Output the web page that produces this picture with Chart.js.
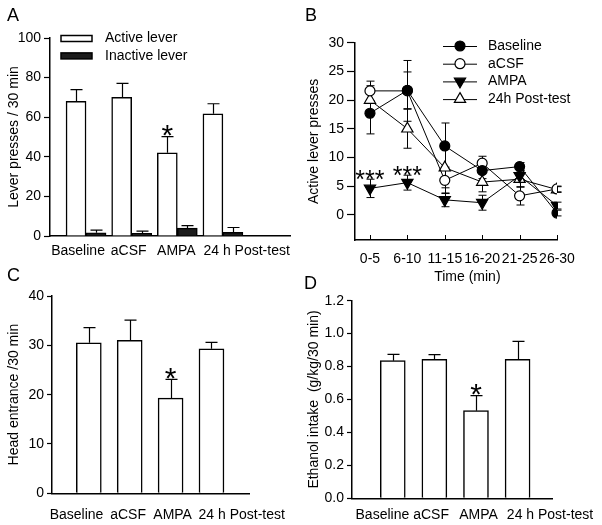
<!DOCTYPE html>
<html><head><meta charset="utf-8">
<script src="https://cdn.jsdelivr.net/npm/chart.js@4.4.1/dist/chart.umd.min.js"></script>
<style>
html,body{margin:0;padding:0;background:#fff;}
body{width:602px;height:525px;position:relative;overflow:hidden;font-family:'Liberation Sans',Arial,sans-serif;}
canvas{position:absolute;}
.letter{position:absolute;font-size:18px;line-height:18px;color:#000;}
</style></head><body>
<canvas id="cA" width="300" height="262" style="left:0;top:0"></canvas>
<canvas id="cC" width="300" height="263" style="left:0;top:262px"></canvas>
<canvas id="cD" width="302" height="263" style="left:300px;top:262px"></canvas>
<canvas id="cB" width="302" height="290" style="left:300px;top:0"></canvas>
<div class="letter" style="left:7px;top:6px">A</div>
<div class="letter" style="left:305px;top:6px">B</div>
<div class="letter" style="left:7px;top:266px">C</div>
<div class="letter" style="left:304px;top:274px">D</div>
<script>
// ---------- DATA ----------
const groups = ['Baseline', 'aCSF', 'AMPA', '24 h Post-test'];
const activeLever = [68, 70, 42, 61.7];
const activeLeverSem = [5.9, 7.1, 8.2, 5.1];
const inactiveLever = [1.6, 1.4, 4.0, 1.8];
const inactiveLeverSem = [1.4, 1.1, 1.2, 2.5];

const timeBins = ['0-5', '6-10', '11-15', '16-20', '21-25', '26-30'];
const bBaseline = [17.7, 21.7, 12.0, 7.7, 8.4, 0.3];
const bBaselineSem = [3.6, 3.2, 4.0, 1.4, 0.7, 0.5];
const bACSF = [21.6, 21.6, 6.0, 9.0, 3.3, 4.5];
const bACSFSem = [1.7, 5.3, 2.3, 1.2, 1.6, 0.5];
const bAMPA = [4.6, 5.6, 2.6, 2.1, 6.8, 1.6];
const bAMPASem = [1.6, 1.3, 1.2, 1.3, 1.0, 0.6];
const bPost = [20.0, 15.0, 8.2, 5.7, 6.2, 4.4];
const bPostSem = [2.5, 3.4, 3.5, 1.7, 1.4, 0.5];
const seriesB = ['Baseline', 'aCSF', 'AMPA', '24h Post-test'];

const headEntrance = [30.5, 31.0, 19.3, 29.3];
const headEntranceSem = [3.1, 4.1, 3.8, 1.3];
const ethanolIntake = [0.836, 0.844, 0.532, 0.844];
const ethanolIntakeSem = [0.038, 0.028, 0.091, 0.109];

const sigBars = [2];      // AMPA (*)
const sigTime = [0, 1];   // AMPA at 0-5, 6-10 (***)

// ---------- STYLE / LAYOUT ----------
const FONT = "'Liberation Sans', Arial, sans-serif";
Chart.defaults.font.family = FONT;
Chart.defaults.font.size = 14;
Chart.defaults.color = '#000';
const labelShiftA = [-0.175, -0.066, -0.02, 0.52];
const labelShiftC = [-0.30, -0.04, 0.05, 0.74];
const labelShiftD = [-0.25, -0.08, 0.06, 0.78];

function valOf(v) { return (v !== null && typeof v === 'object') ? v.y : v; }

const errPlugin = {
  id: 'errbars',
  beforeDatasetsDraw(chart, a, o) { if (o.layer === 'before') drawErr(chart, o); },
  afterDatasetsDraw(chart, a, o) { if (o.layer !== 'before') drawErr(chart, o); }
};
function drawErr(chart, o) {
  const ctx = chart.ctx, ys = chart.scales.y;
  chart.data.datasets.forEach((ds, di) => {
    if (!ds.sem) return;
    const meta = chart.getDatasetMeta(di);
    meta.data.forEach((el, i) => {
      const v = valOf(ds.data[i]), e = ds.sem[i];
      const x = Math.round(el.x) + 0.5;
      const yt = ys.getPixelForValue(v + e);
      const ym = ys.getPixelForValue(v);
      const yb = o.both ? ys.getPixelForValue(v - e) : ym;
      const c = (o.cap || 8) / 2;
      ctx.save();
      ctx.strokeStyle = '#000'; ctx.lineWidth = o.lineWidth || 1;
      ctx.beginPath();
      ctx.moveTo(x, yb); ctx.lineTo(x, yt);
      ctx.moveTo(x - c, yt); ctx.lineTo(x + c, yt);
      if (o.both) { ctx.moveTo(x - c, yb); ctx.lineTo(x + c, yb); }
      ctx.stroke();
      ctx.restore();
    });
  });
}

const sigPlugin = {
  id: 'sig',
  afterDatasetsDraw(chart, a, o) {
    const ctx = chart.ctx, ys = chart.scales.y;
    const ds = chart.data.datasets[o.dataset];
    const meta = chart.getDatasetMeta(o.dataset);
    ctx.save();
    ctx.fillStyle = '#000';
    ctx.font = o.size + 'px ' + FONT;
    ctx.textAlign = 'center'; ctx.textBaseline = 'alphabetic';
    o.indices.forEach(i => {
      const el = meta.data[i];
      const top = ys.getPixelForValue(valOf(ds.data[i]) + ds.sem[i]);
      const cy = top - o.gap;
      ctx.fillText(o.text, el.x, cy + 0.58 * o.size);
    });
    ctx.restore();
  }
};

const legendBars = {
  id: 'legBars',
  afterDraw(chart, a, o) {
    const ctx = chart.ctx;
    chart.data.datasets.forEach((ds, i) => {
      const y = o.y0 + i * o.dy;
      ctx.save();
      ctx.fillStyle = ds.backgroundColor; ctx.strokeStyle = '#000'; ctx.lineWidth = 1.5;
      ctx.fillRect(o.x0, y - o.h / 2, o.w, o.h);
      ctx.strokeRect(o.x0, y - o.h / 2, o.w, o.h);
      ctx.fillStyle = '#000';
      ctx.font = '14px ' + FONT; ctx.textAlign = 'left'; ctx.textBaseline = 'middle';
      ctx.fillText(ds.label, o.tx, y);
      ctx.restore();
    });
  }
};

const legendLines = {
  id: 'legLines',
  afterDraw(chart, a, o) {
    const ctx = chart.ctx;
    chart.data.datasets.forEach((ds, i) => {
      const y = o.y0 + i * o.dy;
      ctx.save();
      ctx.strokeStyle = '#000'; ctx.lineWidth = 1;
      ctx.beginPath(); ctx.moveTo(o.x0, y + 0.5); ctx.lineTo(o.x1, y + 0.5); ctx.stroke();
      ctx.fillStyle = ds.pointBackgroundColor; ctx.lineWidth = ds.pointBorderWidth;
      Chart.helpers.drawPoint(ctx, {pointStyle: ds.pointStyle, rotation: ds.pointRotation || 0,
        radius: ds.pointRadius, borderWidth: ds.pointBorderWidth}, (o.x0 + o.x1) / 2, y);
      ctx.fillStyle = '#000';
      ctx.font = '14px ' + FONT; ctx.textAlign = 'left'; ctx.textBaseline = 'middle';
      ctx.fillText(ds.label, o.tx, y);
      ctx.restore();
    });
  }
};

// inward tick marks and centred title for the time axis of B
const timeAxisPlugin = {
  id: 'timeAxis',
  afterDraw(chart, a, o) {
    const ctx = chart.ctx, xs = chart.scales.x, bottom = chart.chartArea.bottom;
    ctx.save();
    ctx.strokeStyle = '#000'; ctx.lineWidth = 1;
    ctx.beginPath();
    xs.ticks.forEach(t => {
      const x = Math.round(xs.getPixelForValue(t.value)) + 0.5;
      ctx.moveTo(x, bottom); ctx.lineTo(x, bottom - o.len);
    });
    ctx.stroke();
    ctx.font = '14px ' + FONT;
    const first = xs.getPixelForValue(xs.ticks[0].value) - ctx.measureText(timeBins[0]).width / 2;
    const lastT = xs.ticks[xs.ticks.length - 1].value;
    const last = xs.getPixelForValue(lastT) + ctx.measureText(timeBins[timeBins.length - 1]).width / 2;
    ctx.fillStyle = '#000'; ctx.textAlign = 'center'; ctx.textBaseline = 'middle';
    ctx.fillText(o.title, (first + last) / 2, o.y);
    ctx.restore();
  }
};

function yAxis(min, max, step, title, width, tickLen, extra) {
  return Object.assign({
    min: min, max: max,
    ticks: {stepSize: step, padding: 3, color: '#000', font: {size: 14}, includeBounds: false},
    grid: {drawOnChartArea: false, tickLength: tickLen, color: '#000', tickWidth: 1.2},
    border: {color: '#000', width: 1.5},
    title: {display: true, text: title, color: '#000', font: {size: 14}, padding: {top: 5.6, bottom: 0}},
    afterFit: s => { s.width = width; }
  }, extra || {});
}
function xCat(min, max, shift, pad, height) {
  return {
    type: 'linear', min: min, max: max, offset: false,
    afterBuildTicks: s => { s.ticks = groups.map((g, i) => ({value: i + shift[i]})); },
    ticks: {padding: pad, autoSkip: false, maxRotation: 0, color: '#000', font: {size: 14},
      callback: (v, i) => groups[i]},
    grid: {display: false, drawTicks: false, offset: false},
    border: {color: '#000', width: 1.5},
    afterFit: s => { s.height = height; }
  };
}
const common = {responsive: false, animation: false, events: []};

// ---------- A ----------
new Chart(document.getElementById('cA'), {
  type: 'bar',
  data: {datasets: [
    {label: 'Active lever', data: activeLever.map((v, i) => ({x: i, y: v})), sem: activeLeverSem,
     backgroundColor: '#ffffff', borderColor: '#000', borderWidth: 1.5, barThickness: 20},
    {label: 'Inactive lever', data: inactiveLever.map((v, i) => ({x: i, y: v})), sem: inactiveLeverSem,
     backgroundColor: '#1c1c1c', borderColor: '#000', borderWidth: 1.5, barThickness: 20}
  ]},
  options: Object.assign({}, common, {
    layout: {padding: {left: 0, right: 10, top: 38, bottom: 0}},
    plugins: {legend: {display: false}, tooltip: {enabled: false},
      errbars: {cap: 12, lineWidth: 1.2},
      sig: {dataset: 0, indices: sigBars, text: '*', size: 30, gap: 9},
      legBars: {x0: 61, w: 31, h: 6, y0: 38.5, dy: 17.4, tx: 105}},
    scales: {
      x: xCat(-0.79, 4.47, labelShiftA, 6.6, 26),
      y: yAxis(0, 100, 20, 'Lever presses / 30 min', 50, 6)
    }
  }),
  plugins: [errPlugin, sigPlugin, legendBars]
});

// ---------- B ----------
function lineDs(label, vals, sem, style, fill, radius, rot) {
  return {label: label, data: vals.map((v, i) => ({x: i, y: v})), sem: sem,
    borderColor: '#000', borderWidth: 1, tension: 0, fill: false,
    pointStyle: style, pointRadius: radius, pointRotation: rot || 0,
    pointBackgroundColor: fill, pointBorderColor: '#000', pointBorderWidth: 1.2};
}
new Chart(document.getElementById('cB'), {
  type: 'line',
  data: {datasets: [
    lineDs(seriesB[0], bBaseline, bBaselineSem, 'circle', '#000', 5),
    lineDs(seriesB[1], bACSF, bACSFSem, 'circle', '#fff', 5),
    lineDs(seriesB[2], bAMPA, bAMPASem, 'triangle', '#000', 6.5, 180),
    lineDs(seriesB[3], bPost, bPostSem, 'triangle', '#fff', 6.5)
  ]},
  options: Object.assign({}, common, {
    layout: {padding: {left: 0, right: 45, top: 42.7, bottom: 0}},
    plugins: {legend: {display: false}, tooltip: {enabled: false},
      errbars: {cap: 8, both: true, layer: 'before'},
      sig: {dataset: 2, indices: sigTime, text: '***', size: 25, gap: 6},
      legLines: {x0: 143, x1: 177, y0: 46, dy: 17.7, tx: 188},
      timeAxis: {len: 5, title: 'Time (min)', y: 277}},
    scales: {
      x: {type: 'linear', min: -0.4, max: 5,
        afterBuildTicks: s => { s.ticks = timeBins.map((t, i) => ({value: i})); },
        ticks: {padding: 10.6, autoSkip: false, maxRotation: 0, color: '#000', font: {size: 14},
          callback: (v, i) => timeBins[i]},
        grid: {display: false, drawTicks: false},
        border: {color: '#000', width: 1.5},
        afterFit: s => { s.height = 50; }},
      y: yAxis(-4.4, 30, 5, 'Active lever presses', 55, 8, {
        afterBuildTicks: s => { s.ticks = s.ticks.filter(t => t.value >= 0); }
      })
    }
  }),
  plugins: [errPlugin, sigPlugin, legendLines, timeAxisPlugin]
});

// ---------- C ----------
new Chart(document.getElementById('cC'), {
  type: 'bar',
  data: {datasets: [
    {label: 'Head entrance', data: headEntrance.map((v, i) => ({x: i, y: v})), sem: headEntranceSem,
     backgroundColor: '#ffffff', borderColor: '#000', borderWidth: 1.5, barThickness: 25}
  ]},
  options: Object.assign({}, common, {
    layout: {padding: {left: 0, right: 45, top: 34, bottom: 0}},
    plugins: {legend: {display: false}, tooltip: {enabled: false},
      errbars: {cap: 12, lineWidth: 1.2},
      sig: {dataset: 0, indices: sigBars, text: '*', size: 30, gap: 9}},
    scales: {
      x: xCat(-0.9, 3.93, labelShiftC, 13.3, 31.7),
      y: yAxis(0, 40, 10, 'Head entrance /30 min', 52, 5)
    }
  }),
  plugins: [errPlugin, sigPlugin]
});

// ---------- D ----------
new Chart(document.getElementById('cD'), {
  type: 'bar',
  data: {datasets: [
    {label: 'Ethanol intake', data: ethanolIntake.map((v, i) => ({x: i, y: v})), sem: ethanolIntakeSem,
     backgroundColor: '#ffffff', borderColor: '#000', borderWidth: 1.5, barThickness: 25}
  ]},
  options: Object.assign({}, common, {
    layout: {padding: {left: 0, right: 47, top: 38.7, bottom: 0}},
    plugins: {legend: {display: false}, tooltip: {enabled: false},
      errbars: {cap: 12, lineWidth: 1.2},
      sig: {dataset: 0, indices: sigBars, text: '*', size: 30, gap: 9}},
    scales: {
      x: xCat(-0.98, 3.85, labelShiftD, 8.1, 26.7),
      y: yAxis(0, 1.2, 0.2, 'Ethanol intake  (g/kg/30 min)', 52, 5, {
        ticks: {stepSize: 0.2, padding: 3, color: '#000', font: {size: 14}, callback: v => v.toFixed(1)}
      })
    }
  }),
  plugins: [errPlugin, sigPlugin]
});
</script>
</body></html>
